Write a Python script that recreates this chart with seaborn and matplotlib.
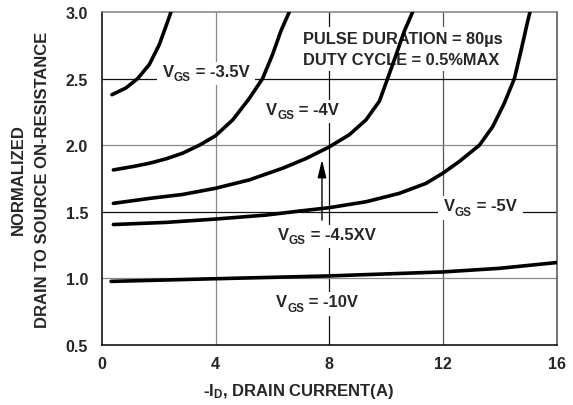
import numpy as np
import pandas as pd
import matplotlib
matplotlib.use("Agg")
import matplotlib.pyplot as plt
from matplotlib.patches import Rectangle
import seaborn as sns

# ---- data ----
x_35 = [0.35, 0.845, 1.255, 1.666, 2.018, 2.252, 2.428, 2.46]
y_35 = [2.379, 2.43, 2.50, 2.606, 2.756, 2.894, 3.00, 3.03]

x_40 = [0.40, 1.08, 1.666, 2.25, 2.84, 3.43, 3.99, 4.6, 5.18, 5.65, 6.0, 6.3, 6.59, 6.62]
y_40 = [1.814, 1.839, 1.864, 1.897, 1.94, 2.0, 2.07, 2.19, 2.35, 2.50, 2.68, 2.86, 3.00, 3.03]

x_45 = [0.40, 1.666, 2.84, 3.99, 5.18, 6.36, 7.18, 7.98, 8.70, 9.29, 9.76, 10.05,
        10.35, 10.64, 10.93, 10.96]
y_45 = [1.563, 1.60, 1.63, 1.676, 1.739, 1.827, 1.90, 1.985, 2.078, 2.19, 2.33, 2.50,
        2.68, 2.857, 3.00, 3.03]

x_50 = [0.40, 2.25, 3.99, 5.77, 6.94, 7.98, 9.29, 10.46, 11.40, 11.99, 12.57, 13.28,
        13.75, 14.16, 14.51, 14.74, 14.98, 15.06, 15.08]
y_50 = [1.404, 1.42, 1.445, 1.475, 1.505, 1.53, 1.575, 1.638, 1.713, 1.789, 1.877, 2.0,
        2.14, 2.317, 2.50, 2.706, 2.932, 3.00, 3.03]

x_10 = [0.32, 3.99, 7.98, 11.99, 13.98, 15.98, 16.0]
y_10 = [0.977, 0.997, 1.018, 1.048, 1.075, 1.118, 1.118]

series_names = ["-3.5V", "-4V", "-4.5V", "-5V", "-10V"]
label_texts = ["-3.5V", "-4V", "-4.5XV", "-5V", "-10V"]
x_ticks = [0, 4, 8, 12, 16]
y_ticks = [0.5, 1.0, 1.5, 2.0, 2.5, 3.0]

frames = []
for name, xs, ys in zip(series_names, [x_35, x_40, x_45, x_50, x_10],
                        [y_35, y_40, y_45, y_50, y_10]):
    frames.append(pd.DataFrame({"id": xs, "r": ys, "vgs": name}))
df = pd.concat(frames, ignore_index=True)

sns.set_theme(style="white")
plt.rcParams["font.family"] = ["Liberation Sans", "DejaVu Sans"]
plt.rcParams["font.weight"] = "bold"
plt.rcParams["mathtext.fontset"] = "custom"
plt.rcParams["mathtext.rm"] = "Liberation Sans:bold"
plt.rcParams["mathtext.it"] = "Liberation Sans:bold"
plt.rcParams["mathtext.bf"] = "Liberation Sans:bold"

fig = plt.figure(figsize=(5.73, 4.06), dpi=100)
ax = fig.add_axes([0.178, 0.148, 0.7936, 0.820])
ax.set_xlim(0, 16)
ax.set_ylim(0.5, 3.0)

# grid lines
grid_v = {4: "#8a8a8a", 8: "#111111", 12: "#555555"}
grid_h = {1.0: "#8a8a8a", 1.5: "#111111", 2.0: "#8a8a8a", 2.5: "#111111"}
for gx, c in grid_v.items():
    ax.axvline(gx, color=c, lw=0.9, zorder=1)
for gy, c in grid_h.items():
    ax.axhline(gy, color=c, lw=0.9, zorder=1)

sns.lineplot(data=df, x="id", y="r", units="vgs", estimator=None, sort=False,
             color="black", lw=2.6, ax=ax, zorder=4, legend=False)

ax.set_xlim(0, 16)
ax.set_ylim(0.5, 3.0)
ax.set_xticks(x_ticks)
ax.set_yticks(y_ticks)
ax.set_xticklabels([str(t) for t in x_ticks])
ax.set_yticklabels([f"{t:.1f}" for t in y_ticks])
ax.tick_params(axis="both", length=0, labelsize=11.5)
ax.tick_params(axis="y", pad=10)
ax.tick_params(axis="x", pad=8)
for lab in ax.get_xticklabels() + ax.get_yticklabels():
    lab.set_fontweight("bold")
ax.set_xlabel("")
ax.set_ylabel("")

for side, c in {"left": "black", "bottom": "black", "top": "#808080",
                "right": "#505050"}.items():
    ax.spines[side].set_visible(True)
    ax.spines[side].set_color(c)
    ax.spines[side].set_linewidth(1.1)

renderer = fig.canvas.get_renderer()
to_pt = 72.0 / fig.dpi


def vgs_label(x, y, rest, fs=12.0, pad_px=6):
    kw = dict(fontweight="bold", ha="left", va="baseline", zorder=3,
              xycoords="data", textcoords="offset points")
    t1 = ax.annotate("V", xy=(x, y), xytext=(0, 0), fontsize=fs, **kw)
    w1 = t1.get_window_extent(renderer).width * to_pt
    t2 = ax.annotate("GS", xy=(x, y), xytext=(w1, -3.0), fontsize=fs * 0.7, **kw)
    w2 = t2.get_window_extent(renderer).width * to_pt
    t3 = ax.annotate(" = " + rest, xy=(x, y), xytext=(w1 + w2, 0), fontsize=fs, **kw)
    exts = [t.get_window_extent(renderer) for t in (t1, t2, t3)]
    x0 = min(e.x0 for e in exts) - pad_px
    x1 = max(e.x1 for e in exts) + pad_px
    y0 = min(e.y0 for e in exts) - 2
    y1 = max(e.y1 for e in exts) + 2
    inv = ax.transData.inverted()
    (dx0, dy0), (dx1, dy1) = inv.transform([(x0, y0), (x1, y1)])
    ax.add_patch(Rectangle((dx0, dy0), dx1 - dx0, dy1 - dy0, facecolor="white",
                           edgecolor="none", zorder=2))


label_pos = [(2.13, 2.523), (5.77, 2.234), (6.18, 1.299), (12.02, 1.510), (6.12, 0.789)]
for (lx, ly), txt in zip(label_pos, label_texts):
    vgs_label(lx, ly, txt)

ax.text(7.085, 2.769, "PULSE DURATION = 80\u00b5s", ha="left", va="baseline",
        fontsize=11.8, fontweight="bold", zorder=3,
        bbox=dict(facecolor="white", edgecolor="none", pad=3))
ax.text(7.085, 2.61, "DUTY CYCLE = 0.5%MAX", ha="left", va="baseline",
        fontsize=11.8, fontweight="bold", zorder=3,
        bbox=dict(facecolor="white", edgecolor="none", pad=3))

ax.annotate("", xy=(7.74, 1.89), xytext=(7.74, 1.437),
            arrowprops=dict(arrowstyle="-|>,head_length=0.9,head_width=0.22",
                            color="black", lw=1.0, mutation_scale=12,
                            shrinkA=0, shrinkB=0),
            zorder=5)

fig.text(0.522, 0.035, r"-I$_{\mathrm{D}}$, DRAIN CURRENT(A)", ha="center",
         va="center", fontsize=12, fontweight="bold")
fig.text(0.0314, 0.557, "NORMALIZED", ha="center", va="center", rotation=90,
         fontsize=12, fontweight="bold")
fig.text(0.0733, 0.557, "DRAIN TO SOURCE ON-RESISTANCE", ha="center",
         va="center", rotation=90, fontsize=12, fontweight="bold")

fig.savefig("out.png", dpi=100)
